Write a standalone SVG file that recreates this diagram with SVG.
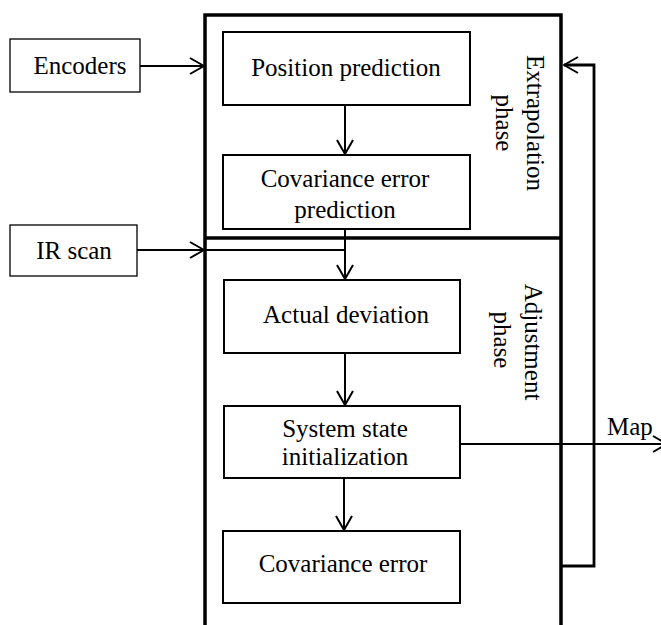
<svg xmlns="http://www.w3.org/2000/svg" width="661" height="625" viewBox="0 0 661 625">
<defs>
<style>
.box{fill:#fff;stroke:#000;stroke-width:2}
.in{fill:#fff;stroke:#000;stroke-width:1.3}
.frame{fill:none;stroke:#000;stroke-width:3.5}
.ln{fill:none;stroke:#000;stroke-width:2}
.fb{fill:none;stroke:#000;stroke-width:2.8}
.c{text-anchor:middle}
</style>
<marker id="ah" viewBox="0 0 16 18" refX="15" refY="9" markerWidth="16" markerHeight="18" markerUnits="userSpaceOnUse" orient="auto">
<path d="M1,1 L15,9 L1,17" fill="none" stroke="#000" stroke-width="2"/>
</marker>
</defs>
<rect width="661" height="625" fill="#fff"/>
<g id="frame">
<path class="frame" d="M205,625 V15 H561 V625"/>
<line class="frame" x1="205" y1="238" x2="561" y2="238"/>
</g>
<g id="connectors">
<line class="ln" x1="140" y1="66" x2="204" y2="66" marker-end="url(#ah)"/>
<line class="ln" x1="137" y1="250" x2="204" y2="250" marker-end="url(#ah)"/>
<path class="ln" d="M205,250 H345"/>
<line class="ln" x1="345" y1="105" x2="345" y2="154" marker-end="url(#ah)"/>
<line class="ln" x1="345" y1="229" x2="345" y2="279" marker-end="url(#ah)"/>
<line class="ln" x1="345" y1="353" x2="345" y2="405" marker-end="url(#ah)"/>
<line class="ln" x1="344" y1="478" x2="344" y2="530" marker-end="url(#ah)"/>
<line class="ln" x1="460" y1="444" x2="667" y2="444" marker-end="url(#ah)"/>
<path class="fb" d="M561,566 H594 V65 H564" marker-end="url(#ah)"/>
</g>
<g font-family="'Liberation Serif', 'DejaVu Serif', serif" font-size="25" fill="#000">
<g id="encoders">
<rect class="in" x="10" y="39" width="130" height="53"/>
<text class="c" x="80" y="74">Encoders</text>
</g>
<g id="irscan">
<rect class="in" x="10" y="225" width="127" height="51"/>
<text class="c" x="74" y="259">IR scan</text>
</g>
<g id="position-prediction">
<rect class="box" x="223" y="32" width="247" height="73"/>
<text class="c" x="346" y="76">Position prediction</text>
</g>
<g id="covariance-error-prediction">
<rect class="box" x="223" y="155" width="247" height="74"/>
<text class="c" x="345" y="187">Covariance error</text>
<text class="c" x="345" y="218">prediction</text>
</g>
<g id="actual-deviation">
<rect class="box" x="224" y="280" width="236" height="73"/>
<text class="c" x="346" y="323">Actual deviation</text>
</g>
<g id="system-state">
<rect class="box" x="224" y="406" width="236" height="72"/>
<text class="c" x="345" y="437">System state</text>
<text class="c" x="345" y="465">initialization</text>
</g>
<g id="covariance-error">
<rect class="box" x="223" y="531" width="237" height="72"/>
<text class="c" x="343" y="572">Covariance error</text>
</g>
<g id="extrapolation-label">
<text class="c" transform="translate(527,123) rotate(90)">Extrapolation</text>
<text class="c" transform="translate(496,123) rotate(90)">phase</text>
</g>
<g id="adjustment-label">
<text class="c" transform="translate(525,342) rotate(90)">Adjustment</text>
<text class="c" transform="translate(494,340) rotate(90)">phase</text>
</g>
<g id="map-label">
<text x="607" y="435">Map</text>
</g>
</g>
</svg>
